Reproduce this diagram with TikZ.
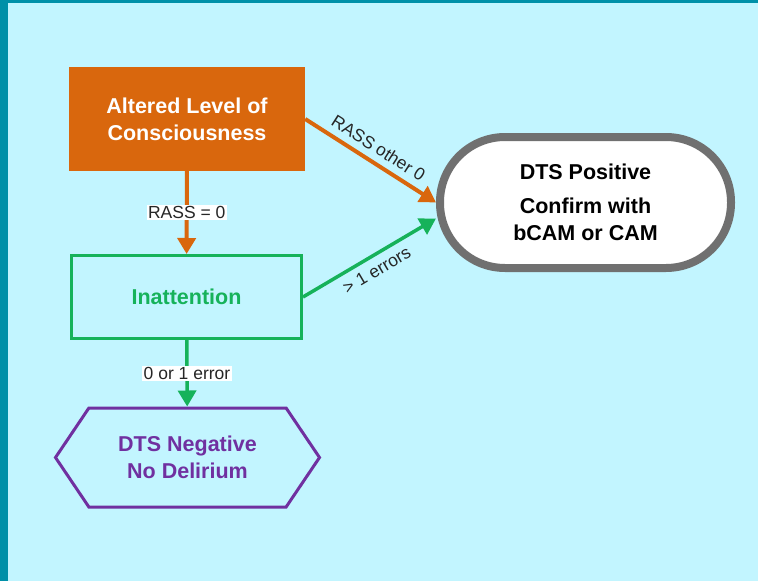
\documentclass[tikz,border=0pt]{standalone}
\usepackage{fontspec}
\setmainfont{Liberation Sans}
\usetikzlibrary{arrows.meta,shapes.symbols}

\definecolor{frameteal}{HTML}{0090A8}
\definecolor{panelcyan}{HTML}{C2F5FF}
\definecolor{locorange}{HTML}{D9670D}
\definecolor{attgreen}{HTML}{16B25A}
\definecolor{negpurple}{HTML}{7030A0}
\definecolor{posgrey}{HTML}{707070}

\begin{document}
\begin{tikzpicture}
    [ x=1pt, y=-1pt
    , every node/.style={font=\fontsize{21.5}{27}\selectfont\bfseries, align=center}
    , box/.style={draw, shape=rectangle}
    , cond/.style={font=\fontsize{17.5}{20}\selectfont, text=black!85, inner sep=1.5pt}
    , link/.style={-{Triangle[length=16pt,width=18pt]}, line width=4pt}
    ]
    \fill [frameteal] (0,0) rectangle (758,581);
    \fill [panelcyan] (8,3) rectangle (758,581);

    \node (altered) [box, draw=none, fill=locorange, text=white,
        minimum width=236pt, minimum height=104pt] at (187,119)
        {Altered Level of\\Consciousness};
    \node (inatt) [box, draw=attgreen, line width=3pt, text=attgreen,
        minimum width=230pt, minimum height=83pt] at (186.5,297)
        {Inattention};
    \node (negative) [shape=signal, signal to=west and east,
        signal pointer angle=112, draw=negpurple, line width=3pt,
        text=negpurple, minimum width=264pt, minimum height=99pt]
        at (187.5,457.5) {DTS Negative\\No Delirium};
    \node (positive) [box, draw=posgrey, fill=white, line width=8pt,
        rounded corners=65pt, minimum width=291pt, minimum height=131pt]
        at (585.5,202.5) {DTS Positive\\[7pt]Confirm with\\bCAM or CAM};

    \draw [link, locorange] (altered) -- node [cond, fill=white] {RASS = 0} (inatt);
    \draw [link, locorange] (altered.east)
        -- node [cond, sloped, above=5pt] {RASS other 0} (positive.west);
    \draw [link, attgreen, line width=3.5pt] (inatt.east)
        -- node [cond, sloped, below=5pt] {> 1 errors} ([yshift=-16pt]positive.west);
    \draw [link, attgreen, line width=3.5pt] (inatt)
        -- node [cond, fill=white] {0 or 1 error} (negative);
\end{tikzpicture}
\end{document}
